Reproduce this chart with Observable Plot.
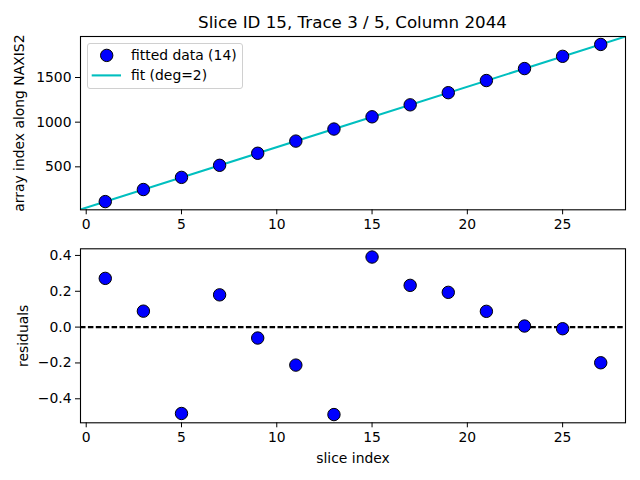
<!DOCTYPE html>
<html>
<head>
<meta charset="utf-8">
<script src="https://cdn.jsdelivr.net/npm/d3@7"></script>
<script src="https://cdn.jsdelivr.net/npm/@observablehq/plot@0.6"></script>
<style>
  html, body { margin: 0; padding: 0; background: #fff; }
  #wrap { position: relative; width: 640px; height: 480px; overflow: hidden; font-family: "DejaVu Sans", sans-serif; }
  #title { position: absolute; left: 80px; width: 545px; top: 12px; text-align: center; font-size: 16.7px; color: #000; line-height: 20px; }
  #top { position: absolute; left: 0; top: 26px; }
  #bot { position: absolute; left: 0; top: 238px; }
  #legend { position: absolute; left: 87px; top: 43px; width: 156px; height: 46px; box-sizing: border-box; border: 1px solid #d0d0d0; border-radius: 3px; background: rgba(255,255,255,0.8); }
  #legend svg { position: absolute; left: -1px; top: -1px; }
</style>
</head>
<body>
<div id="wrap">
  <div id="title">Slice ID 15, Trace 3 / 5, Column 2044</div>
  <div id="top"></div>
  <div id="bot"></div>
  <div id="legend">
    <svg width="156" height="46" font-family="DejaVu Sans" font-size="13.9">
      <circle cx="19.7" cy="12.4" r="6.2" fill="#0000ff" stroke="#000" stroke-width="1"></circle>
      <text x="44" y="17.4" fill="#000">fitted data (14)</text>
      <line x1="4.7" x2="34" y1="32.4" y2="32.4" stroke="#00bfbf" stroke-width="2.1"></line>
      <text x="44" y="37.4" fill="#000">fit (deg=2)</text>
    </svg>
  </div>
</div>
<script>
// ---- data ----
const sliceIndex = [1, 3, 5, 7, 9, 11, 13, 15, 17, 19, 21, 23, 25, 27];
const rowIndex   = [111, 246, 382, 517, 652, 788, 923, 1060, 1194, 1330, 1466, 1600, 1737, 1870];
const residuals  = [0.272, 0.089, -0.482, 0.180, -0.061, -0.212, -0.488, 0.391, 0.233, 0.194, 0.088, 0.006, -0.009, -0.199];
const fitX = [-0.3, 14, 28.3];
const fitY = [23, 990, 1958];
const xTicks = [0, 5, 10, 15, 20, 25];
const yTicksTop = [500, 1000, 1500];
const yTicksBot = [-0.4, -0.2, 0.0, 0.2, 0.4];
const zeroLine = [0];

const pts = sliceIndex.map((x, i) => ({x, y: rowIndex[i], r: residuals[i]}));
const fit = fitX.map((x, i) => ({x, y: fitY[i]}));

const common = {
  width: 640,
  marginLeft: 80,
  marginRight: 15,
  style: {fontFamily: "DejaVu Sans, sans-serif", fontSize: "13.9px", color: "#000", background: "transparent", overflow: "visible"},
  x: {domain: [-0.3, 28.3]}
};

const topPlot = Plot.plot({
  ...common,
  height: 212,
  marginTop: 10,
  marginBottom: 28.7,
  y: {domain: [19, 1959]},
  marks: [
    Plot.line(fit, {x: "x", y: "y", stroke: "#00bfbf", strokeWidth: 2.1, clip: true}),
    Plot.dot(pts, {x: "x", y: "y", r: 6.2, fill: "#0000ff", stroke: "#000", strokeWidth: 1}),
    Plot.axisX({ticks: xTicks, tickSize: 5, tickPadding: 4, label: null, tickFormat: d3.format("d"), stroke: "#000"}),
    Plot.axisY({ticks: yTicksTop, tickSize: 5, tickPadding: 4, tickFormat: d3.format("d"), label: "array index along NAXIS2", labelAnchor: "center", labelArrow: "none", labelOffset: 66}),
    Plot.frame({stroke: "#000", strokeWidth: 1.1})
  ]
});
document.getElementById("top").appendChild(topPlot);

const botPlot = Plot.plot({
  ...common,
  height: 242,
  marginTop: 10.3,
  marginBottom: 57.7,
  y: {domain: [-0.534, 0.437]},
  marks: [
    Plot.ruleY(zeroLine, {stroke: "#000", strokeWidth: 2.1, strokeDasharray: "5.5,2.4"}),
    Plot.dot(pts, {x: "x", y: "r", r: 6.2, fill: "#0000ff", stroke: "#000", strokeWidth: 1}),
    Plot.axisX({ticks: xTicks, tickSize: 5, tickPadding: 4, tickFormat: d3.format("d"), label: "slice index", labelAnchor: "center", labelArrow: "none", labelOffset: 40.5}),
    Plot.axisY({ticks: yTicksBot, tickSize: 5, tickPadding: 4, tickFormat: d3.format(".1f"), label: "residuals", labelAnchor: "center", labelArrow: "none", labelOffset: 62.7}),
    Plot.frame({stroke: "#000", strokeWidth: 1.1})
  ]
});
document.getElementById("bot").appendChild(botPlot);
</script>
</body>
</html>
